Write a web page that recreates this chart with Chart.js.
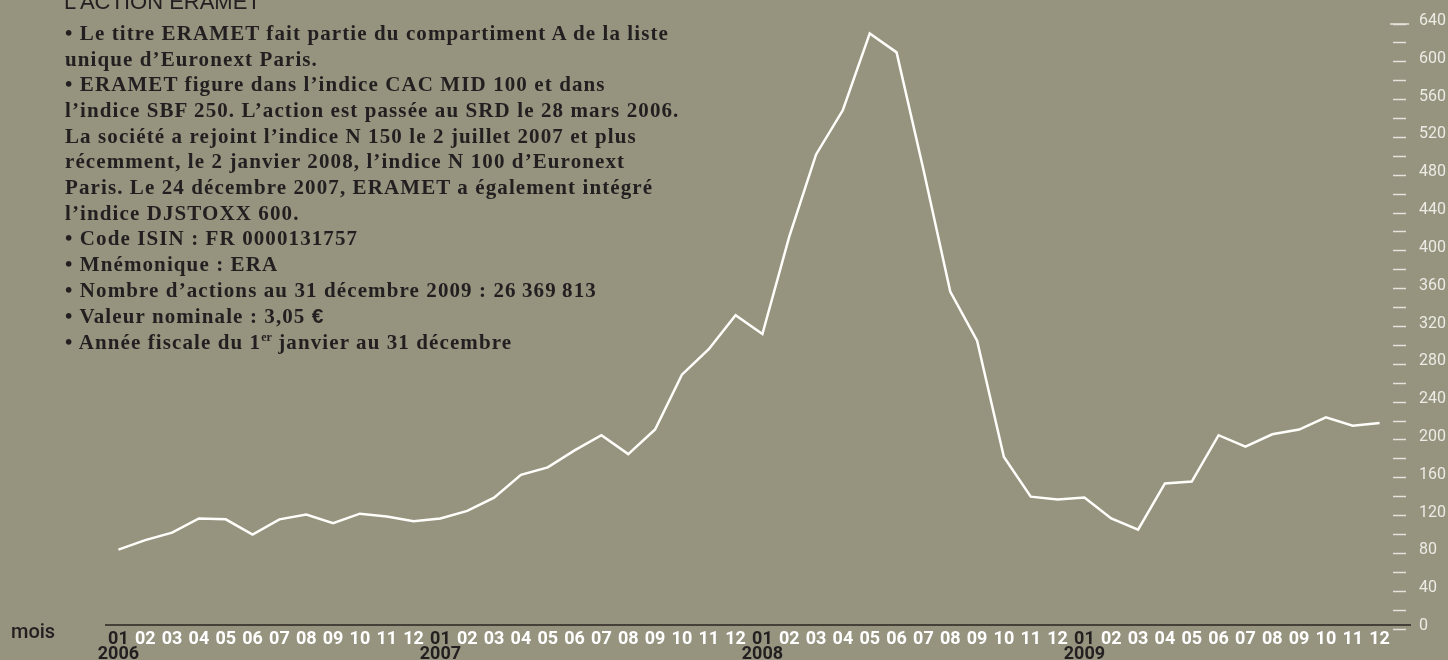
<!DOCTYPE html>
<html>
<head>
<meta charset="utf-8">
<script src="https://cdn.jsdelivr.net/npm/chart.js@4.4.1/dist/chart.umd.min.js"></script>
<style>
  html, body { margin: 0; padding: 0; background: #96937f; }
  #wrap { position: relative; width: 1448px; height: 660px; overflow: hidden; background: #96937f; }
  #chart { position: absolute; left: 0; top: 0; }
  #title { position: absolute; left: 64px; top: -9px; font: 22px "Liberation Sans", Arial, sans-serif; line-height: 22px; color: #231f20; white-space: nowrap; }
  #info { position: absolute; left: 65px; top: 21px; font: bold 21px "Liberation Serif", serif; line-height: 25.67px; letter-spacing: 1.1px; color: #231f20; white-space: nowrap; }
  #info sup { font-size: 12px; vertical-align: 8px; line-height: 0; letter-spacing: 0; }
  #info .eur { font-family: "Liberation Sans", sans-serif; font-size: 21px; }
  #mois { position: absolute; left: 11px; top: 621px; font: 500 20px Roboto, sans-serif; line-height: 20px; color: #231f20; }
</style>
</head>
<body>
<div id="wrap">
  <canvas id="chart" width="1448" height="660"></canvas>
  <div id="title">L’ACTION ERAMET</div>
  <div id="info">
    • Le titre ERAMET fait partie du compartiment A de la liste<br>
    unique d’Euronext Paris.<br>
    • ERAMET figure dans l’indice CAC MID 100 et dans<br>
    l’indice SBF 250. L’action est passée au SRD le 28 mars 2006.<br>
    La société a rejoint l’indice N 150 le 2 juillet 2007 et plus<br>
    récemment, le 2 janvier 2008, l’indice N 100 d’Euronext<br>
    Paris. Le 24 décembre 2007, ERAMET a également intégré<br>
    l’indice DJSTOXX 600.<br>
    • Code ISIN : FR 0000131757<br>
    • Mnémonique : ERA<br>
    • Nombre d’actions au 31 décembre 2009 : 26&#8239;369&#8239;813<br>
    • Valeur nominale : 3,05 <span class="eur">€</span><br>
    • Année fiscale du 1<sup>er</sup> janvier au 31 décembre
  </div>
  <div id="mois">mois</div>
</div>
<script>
// ---- data ----
const months = ['01','02','03','04','05','06','07','08','09','10','11','12'];
const years = ['2006','2007','2008','2009'];
const prices = [
  84, 94, 102, 117, 116, 100, 116, 121, 112, 122, 119, 114,
  117, 125, 139, 163, 171, 189, 205, 185, 211, 269, 296, 332,
  312, 415, 502, 549, 630, 610, 486, 357, 305, 182, 140, 137,
  139, 117, 105, 154, 156, 205, 193, 206, 211, 224, 215, 218
];
const yMin = 0, yMax = 640, yStep = 20, yLabelStep = 40;

const labels = [];
years.forEach(y => months.forEach(m => labels.push(m === '01' ? [m, y] : m)));

const axisLinePlugin = {
  id: 'axisLine',
  beforeDatasetsDraw(chart) {
    const ctx = chart.ctx, a = chart.chartArea, ys = chart.scales.y;
    ctx.save();
    ctx.strokeStyle = '#2a2622';
    ctx.lineWidth = 1.5;
    ctx.beginPath();
    ctx.moveTo(105, a.bottom - 4);
    ctx.lineTo(1411, a.bottom - 4);
    ctx.stroke();
    const yt = ys.getPixelForValue(yMax);
    ctx.strokeStyle = '#e4e2da';
    ctx.beginPath();
    ctx.moveTo(a.right - 3, yt);
    ctx.lineTo(a.right + 16, yt);
    ctx.stroke();
    ctx.restore();
  }
};

new Chart(document.getElementById('chart'), {
  type: 'line',
  data: {
    labels: labels,
    datasets: [{
      data: prices,
      borderColor: '#fffefa',
      borderWidth: 2.5,
      pointRadius: 0,
      tension: 0,
      fill: false
    }]
  },
  options: {
    responsive: false,
    devicePixelRatio: 1,
    animation: false,
    layout: { padding: { left: 105, top: 24, right: 0, bottom: 0 } },
    plugins: { legend: { display: false }, tooltip: { enabled: false } },
    scales: {
      x: {
        offset: true,
        grid: { display: false, drawTicks: false },
        border: { display: false },
        ticks: {
          autoSkip: false,
          maxRotation: 0,
          padding: 3,
          font: { family: 'Roboto', weight: 'bold', size: 18, lineHeight: '15px' },
          color: c => (c.index % 12 === 0 ? '#231f20' : '#ffffff')
        },
        afterFit(s) { s.height = 31; }
      },
      y: {
        position: 'right',
        min: yMin,
        max: yMax,
        grid: { drawOnChartArea: false, drawTicks: true, tickLength: 13, tickColor: '#e4e2da', tickWidth: 1.5 },
        border: { display: false },
        ticks: {
          stepSize: yStep,
          autoSkip: false,
          padding: 13,
          labelOffset: -3,
          color: '#ecebe4',
          font: { family: 'Roboto', size: 16 },
          callback: v => (v % yLabelStep === 0 ? String(v) : '')
        },
        afterFit(s) { s.width = 55; }
      }
    }
  },
  plugins: [axisLinePlugin]
});
</script>
</body>
</html>
